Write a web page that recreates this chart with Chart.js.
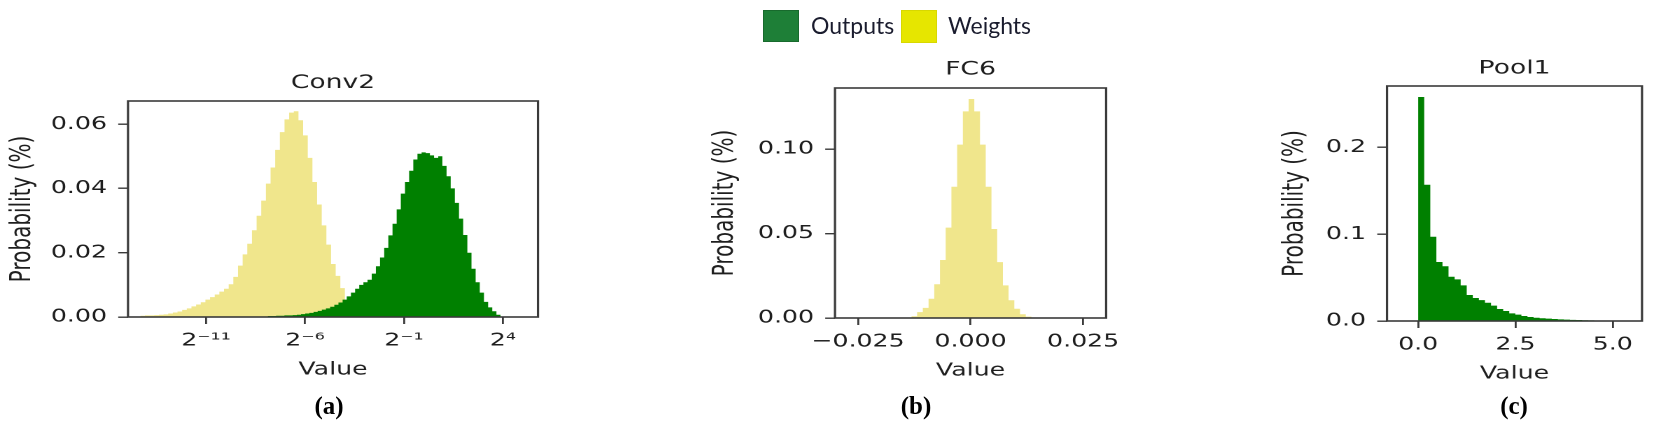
<!DOCTYPE html>
<html>
<head>
<meta charset="utf-8">
<script src="https://cdn.jsdelivr.net/npm/chart.js@4.4.1/dist/chart.umd.min.js"></script>
<style>
html,body{margin:0;padding:0;background:#fff;width:1660px;height:427px;overflow:hidden;position:relative;}
.panel{position:absolute;top:0;transform-origin:0 0;}
.panel canvas{display:block;}
.sw{position:absolute;box-sizing:border-box;}
.lt{position:absolute;font-family:'Lato','Open Sans',sans-serif;font-size:23px;line-height:23px;color:#1a1c2e;white-space:nowrap;}
.cap{position:absolute;width:80px;text-align:center;font-family:'Liberation Serif','Times New Roman',serif;font-weight:bold;font-size:25px;line-height:25px;color:#000;}
</style>
</head>
<body>
<div class="panel" id="wa"><canvas id="ca"></canvas></div>
<div class="panel" id="wb"><canvas id="cb"></canvas></div>
<div class="panel" id="wc"><canvas id="cc"></canvas></div>

<div class="sw" style="left:763px;top:10px;width:36px;height:32px;background:#1e7f37;border:1px solid #186a2d;"></div>
<div class="lt" style="left:811px;top:14px;">Outputs</div>
<div class="sw" style="left:901px;top:10px;width:36px;height:33px;background:#e6e600;border:1px solid #d8d800;"></div>
<div class="lt" style="left:948px;top:14px;">Weights</div>

<div class="cap" style="left:289px;top:393px;">(a)</div>
<div class="cap" style="left:876px;top:393px;">(b)</div>
<div class="cap" style="left:1474px;top:393px;">(c)</div>

<script>
// ---------------- DATA ----------------
const seriesNames = ['Outputs', 'Weights'];
const xAxisTitle = 'Value';
const yAxisTitle = 'Probability (%)';

// Panel (a) Conv2 — x in log2 units
const conv2Title = 'Conv2';
const conv2XTicks = [-11, -6, -1, 4];
const conv2XLabels = ['2⁻¹¹', '2⁻⁶', '2⁻¹', '2⁴'];
const conv2YTicks = [0, 0.02, 0.04, 0.06];
const conv2YLabels = ['0.00', '0.02', '0.04', '0.06'];
const conv2XRange = [-14.94, 5.77];
const conv2YRange = [0, 0.0672];
const conv2WeightsBinStart = -14.32;
const conv2WeightsBinWidth = 0.235;
const conv2Weights = [
  0.0004,0.0005,0.0005,0.0006,0.0007,0.0008,0.0011,0.0014,0.0017,0.0022,
  0.0027,0.0033,0.0039,0.0046,0.0054,0.0062,0.0070,0.0079,0.0088,0.0102,
  0.0125,0.0160,0.0195,0.0228,0.0270,0.0315,0.0362,0.0415,0.0465,0.0520,
  0.0575,0.0615,0.0636,0.0640,0.0612,0.0565,0.0495,0.0420,0.0350,0.0285,
  0.0225,0.0165,0.0128,0.0090];
const conv2OutputsBinStart = -7.88;
const conv2OutputsBinWidth = 0.21;
const conv2Outputs = [
  0.0003,0.0003,0.0004,0.0004,0.0005,0.0005,0.0006,0.0007,0.0009,0.0011,
  0.0013,0.0016,0.0019,0.0023,0.0027,0.0032,0.0038,0.0045,0.0054,0.0064,
  0.0076,0.0088,0.0100,0.0108,0.0116,0.0135,0.0158,0.0185,0.0215,0.0254,
  0.0290,0.0335,0.0384,0.0420,0.0455,0.0490,0.0508,0.0512,0.0510,0.0503,
  0.0495,0.0500,0.0470,0.0438,0.0400,0.0355,0.0306,0.0255,0.0200,0.0150,
  0.0108,0.0076,0.0047,0.0030,0.0018,0.0007];

// Panel (b) FC6
const fc6Title = 'FC6';
const fc6XTicks = [-0.025, 0, 0.025];
const fc6XLabels = ['−0.025', '0.000', '0.025'];
const fc6YTicks = [0, 0.05, 0.10];
const fc6YLabels = ['0.00', '0.05', '0.10'];
const fc6XRange = [-0.0301, 0.0301];
const fc6YRange = [0, 0.1361];
const fc6WeightsBinStart = -0.01314;
const fc6WeightsBinWidth = 0.00127;
const fc6Weights = [0.0010,0.0035,0.0060,0.0114,0.0200,0.0343,0.0535,0.0777,0.1026,0.1223,
  0.1296,0.1223,0.1026,0.0777,0.0527,0.0331,0.0193,0.0105,0.0055,0.0022,0.0008];

// Panel (c) Pool1
const pool1Title = 'Pool1';
const pool1XTicks = [0, 2.5, 5.0];
const pool1XLabels = ['0.0', '2.5', '5.0'];
const pool1YTicks = [0, 0.1, 0.2];
const pool1YLabels = ['0.0', '0.1', '0.2'];
const pool1XRange = [-0.80, 5.75];
const pool1YRange = [0, 0.2707];
const pool1OutputsBinStart = 0;
const pool1OutputsBinWidth = 0.156;
const pool1Outputs = [0.258,0.157,0.097,0.068,0.063,0.051,0.048,0.041,0.030,0.0265,
  0.024,0.021,0.0177,0.0138,0.0115,0.0088,0.0073,0.0058,0.0046,0.0038,
  0.0032,0.0027,0.0023,0.0019,0.0016,0.0013,0.0011,0.0009,0.0007,0.0005,0.0004,0.0003];

// ---------------- STYLE / LAYOUT ----------------
const COLOR_OUTPUTS = '#008000';
const COLOR_WEIGHTS = '#f0e68c';
const S = 1.4;          // horizontal stretch of the figure
const H = 427;
const FONT = "'DejaVu Sans', sans-serif";
const TICK_FONT = 18, TITLE_FONT = 19, XLAB_FONT = 18, YLAB_FONT = 20;
const TICK_LEN = 7;
const AXIS_COLOR = '#3a3a3a';
const TEXT_COLOR = '#1e1e1e';

const layoutA = {cx: 0,    ax: 128,  bx: 538,  top: 101, bottom: 317, titleY: 83,   ylabX: 22.5,  xlabY: 370, right: 552};
const layoutB = {cx: 690,  ax: 835,  bx: 1113, top: 88,  bottom: 318, titleY: 69.5, ylabX: 725.5, xlabY: 371, right: 1130};
const layoutC = {cx: 1255, ax: 1387, bx: 1642, top: 86,  bottom: 321, titleY: 68.5, ylabX: 1295,  xlabY: 374, right: 1659};

function histPoints(start, width, heights) {
  const pts = heights.map((h, i) => ({x: start + i * width, y: h}));
  pts.push({x: start + heights.length * width, y: 0});
  return pts;
}

const frame = {
  id: 'frame',
  afterDatasetsDraw(chart) {
    const {ctx, chartArea: a} = chart;
    ctx.save();
    ctx.strokeStyle = AXIS_COLOR;
    ctx.lineWidth = 1.6;
    ctx.strokeRect(a.left, a.top, a.right - a.left, a.bottom - a.top);
    ctx.restore();
  }
};

function makePanel(wrapId, canvasId, L, d) {
  const wrap = document.getElementById(wrapId);
  const canvas = document.getElementById(canvasId);
  const Wp = Math.round((L.right - L.cx) / S);
  canvas.width = Wp; canvas.height = H;
  wrap.style.left = L.cx + 'px';
  wrap.style.transform = 'scaleX(' + S + ')';
  const yAxisW = (L.ax - L.cx) / S;
  const padRight = Wp - (L.bx - L.cx) / S;
  const titleLH = TITLE_FONT * 1.2;
  const padTop = L.titleY - titleLH / 2;
  const titlePadBottom = L.top - padTop - titleLH;
  const xAxisH = H - L.bottom;
  const xlabLH = XLAB_FONT * 1.2;
  const xlabPadBottom = H - L.xlabY - xlabLH / 2;
  const ylabLH = YLAB_FONT * 1.2;
  const ylabPadTop = (L.ylabX - L.cx) / S - ylabLH / 2;

  new Chart(canvas, {
    type: 'line',
    data: {
      datasets: d.datasets.map(ds => ({
        label: ds.label,
        data: histPoints(ds.start, ds.width, ds.values),
        stepped: true,
        fill: 'origin',
        backgroundColor: ds.color,
        borderColor: 'rgba(0,0,0,0)',
        borderWidth: 0,
        pointRadius: 0,
        order: ds.order
      }))
    },
    options: {
      responsive: false,
      animation: false,
      devicePixelRatio: 2,
      events: [],
      layout: {padding: {left: 0, right: padRight, top: padTop, bottom: 0}},
      plugins: {
        legend: {display: false},
        tooltip: {enabled: false},
        title: {
          display: true, text: d.title, fullSize: false,
          font: {family: FONT, size: TITLE_FONT, weight: 'normal'},
          color: TEXT_COLOR,
          padding: {top: 0, bottom: titlePadBottom}
        }
      },
      scales: {
        x: {
          type: 'linear', min: d.xRange[0], max: d.xRange[1],
          afterBuildTicks: s => { s.ticks = d.xTicks.map(v => ({value: v})); },
          afterFit: s => { s.height = xAxisH; },
          ticks: {
            callback: v => d.xLabels[d.xTicks.indexOf(v)],
            font: {family: FONT, size: TICK_FONT}, color: TEXT_COLOR,
            padding: 6, autoSkip: false, maxRotation: 0, minRotation: 0
          },
          grid: {drawOnChartArea: false, drawTicks: true, tickLength: TICK_LEN, color: AXIS_COLOR, lineWidth: 1.4},
          border: {display: false},
          title: {display: true, text: xAxisTitle, font: {family: FONT, size: XLAB_FONT}, color: TEXT_COLOR,
                  padding: {top: 0, bottom: xlabPadBottom}}
        },
        y: {
          type: 'linear', min: d.yRange[0], max: d.yRange[1],
          afterBuildTicks: s => { s.ticks = d.yTicks.map(v => ({value: v})); },
          afterFit: s => { s.width = yAxisW; },
          ticks: {
            callback: v => d.yLabels[d.yTicks.indexOf(v)],
            font: {family: FONT, size: TICK_FONT}, color: TEXT_COLOR,
            padding: 8, autoSkip: false
          },
          grid: {drawOnChartArea: false, drawTicks: true, tickLength: TICK_LEN, color: AXIS_COLOR, lineWidth: 1.4},
          border: {display: false},
          title: {display: true, text: yAxisTitle, font: {family: FONT, size: YLAB_FONT}, color: TEXT_COLOR,
                  padding: {top: ylabPadTop, bottom: 0}}
        }
      }
    },
    plugins: [frame]
  });
}

makePanel('wa', 'ca', layoutA, {
  title: conv2Title, xRange: conv2XRange, yRange: conv2YRange,
  xTicks: conv2XTicks, xLabels: conv2XLabels, yTicks: conv2YTicks, yLabels: conv2YLabels,
  datasets: [
    {label: seriesNames[0], start: conv2OutputsBinStart, width: conv2OutputsBinWidth, values: conv2Outputs, color: COLOR_OUTPUTS, order: 0},
    {label: seriesNames[1], start: conv2WeightsBinStart, width: conv2WeightsBinWidth, values: conv2Weights, color: COLOR_WEIGHTS, order: 1}
  ]
});
makePanel('wb', 'cb', layoutB, {
  title: fc6Title, xRange: fc6XRange, yRange: fc6YRange,
  xTicks: fc6XTicks, xLabels: fc6XLabels, yTicks: fc6YTicks, yLabels: fc6YLabels,
  datasets: [
    {label: seriesNames[1], start: fc6WeightsBinStart, width: fc6WeightsBinWidth, values: fc6Weights, color: COLOR_WEIGHTS, order: 0}
  ]
});
makePanel('wc', 'cc', layoutC, {
  title: pool1Title, xRange: pool1XRange, yRange: pool1YRange,
  xTicks: pool1XTicks, xLabels: pool1XLabels, yTicks: pool1YTicks, yLabels: pool1YLabels,
  datasets: [
    {label: seriesNames[0], start: pool1OutputsBinStart, width: pool1OutputsBinWidth, values: pool1Outputs, color: COLOR_OUTPUTS, order: 0}
  ]
});
</script>
</body>
</html>
